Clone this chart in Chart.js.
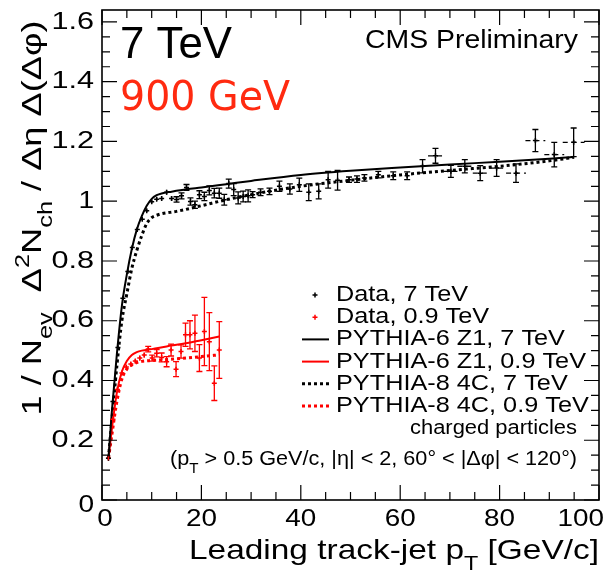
<!DOCTYPE html>
<html>
<head>
<meta charset="utf-8">
<script src="https://cdn.jsdelivr.net/npm/chart.js@4.4.1/dist/chart.umd.min.js"></script>
<style>
  html, body { margin: 0; padding: 0; background: #fff; }
  #wrap { width: 606px; height: 575px; }
</style>
</head>
<body>
<div id="wrap"><canvas id="chart"></canvas></div>
<script>
// DATA, 7 TeV
const x7 = [1.3, 2.2, 3.2, 4.2, 5.2, 6.1, 7.1, 8.1, 9.0, 10.0, 11.0, 12.0, 13.0, 14.0, 15.0, 16.0, 17.0, 17.8, 18.7, 19.6,
  20.6, 21.6, 22.6, 23.6, 24.6, 25.5, 26.5, 27.4, 28.4, 29.4, 30.3, 31.9, 33.7, 35.7, 37.8, 39.7, 41.6, 43.6, 45.5, 47.4,
  49.7, 51.3, 52.8, 55.6, 58.6, 61.4, 64.5, 67.1, 70.2, 73.0, 76.1, 79.4, 83.3, 87.2, 91.0, 94.9];
const y7 = [0.14, 0.33, 0.51, 0.675, 0.765, 0.845, 0.905, 0.94, 0.968, 0.998, 1.007, 1.009, 1.03, 1.009, 1.006, 1.018, 1.046, 0.999, 0.988, 1.022,
  1.016, 1.036, 1.027, 1.027, 1.005, 1.059, 1.039, 1.011, 1.016, 1.018, 1.022, 1.03, 1.033, 1.05, 1.041, 1.055, 1.03, 1.033, 1.072, 1.07,
  1.072, 1.074, 1.078, 1.089, 1.085, 1.085, 1.117, 1.152, 1.1, 1.117, 1.094, 1.111, 1.094, 1.203, 1.156, 1.197];
const err7 = [0.005, 0.005, 0.005, 0.005, 0.005, 0.005, 0.005, 0.005, 0.005, 0.006, 0.006, 0.007, 0.008, 0.008, 0.009, 0.01, 0.01, 0.012, 0.012, 0.013,
  0.014, 0.015, 0.016, 0.017, 0.018, 0.015, 0.02, 0.02, 0.018, 0.02, 0.01, 0.011, 0.011, 0.017, 0.017, 0.022, 0.028, 0.025, 0.028, 0.033,
  0.009, 0.011, 0.011, 0.011, 0.013, 0.013, 0.022, 0.025, 0.02, 0.022, 0.025, 0.028, 0.031, 0.037, 0.041, 0.048];
const xerr7 = [0, 0, 0, 0, 0, 0, 0, 0, 0, 0, 0, 0, 0, 0, 0, 0, 0, 0, 0, 0,
  0, 0, 0, 0, 0, 0, 0, 0, 0, 0, 0, 0, 0, 0, 0, 0, 0, 0, 0, 0,
  0, 0, 0, 0, 0, 0, 0, 1.5, 1.5, 1.5, 1.5, 1.5, 2, 2, 2, 2.2];

// DATA, 0.9 TeV
const x09 = [1.3, 2.2, 3.1, 4.0, 4.9, 5.8, 6.7, 7.6, 8.5, 9.3, 10.1, 11.0, 12.0, 13.0, 13.9, 14.9, 15.9, 16.8, 17.7, 18.7,
  19.6, 20.6, 21.6, 22.6, 23.6];
const y09 = [0.14, 0.27, 0.37, 0.425, 0.445, 0.455, 0.465, 0.475, 0.485, 0.505, 0.475, 0.491, 0.477, 0.463, 0.502, 0.438, 0.497, 0.553, 0.553, 0.558,
  0.475, 0.564, 0.53, 0.391, 0.502];
const err09 = [0.006, 0.006, 0.006, 0.006, 0.006, 0.007, 0.007, 0.008, 0.008, 0.009, 0.01, 0.012, 0.015, 0.017, 0.02, 0.025, 0.022, 0.039, 0.047, 0.061,
  0.045, 0.114, 0.097, 0.058, 0.095];

// PYTHIA curves
const xZ1_7 = [1.3, 2, 3, 4, 5, 6, 7, 8, 9, 10, 11, 12, 14, 17, 20, 25, 30, 40, 50, 60, 70, 80, 90, 95];
const yZ1_7 = [0.14, 0.3, 0.49, 0.65, 0.755, 0.84, 0.905, 0.95, 0.985, 1.008, 1.02, 1.026, 1.032, 1.04, 1.046, 1.057, 1.068, 1.088, 1.102, 1.113, 1.123, 1.132, 1.142, 1.148];
const x4C_7 = [1.3, 2, 3, 4, 5, 6, 7, 8, 9, 10, 11, 12, 15, 20, 25, 30, 40, 50, 60, 70, 80, 90, 95];
const y4C_7 = [0.14, 0.27, 0.45, 0.6, 0.69, 0.775, 0.835, 0.885, 0.925, 0.945, 0.953, 0.958, 0.966, 0.985, 1.005, 1.022, 1.05, 1.07, 1.088, 1.103, 1.117, 1.135, 1.147];
const xZ1_09 = [1.3, 2, 3, 4, 5, 6, 7, 8, 10, 13, 16, 20, 23.6];
const yZ1_09 = [0.14, 0.24, 0.36, 0.43, 0.465, 0.485, 0.495, 0.5, 0.505, 0.514, 0.522, 0.535, 0.547];
const x4C_09 = [1.3, 2, 3, 4, 5, 6, 7, 8, 10, 13, 16, 20, 23.6];
const y4C_09 = [0.14, 0.22, 0.33, 0.405, 0.438, 0.452, 0.46, 0.464, 0.467, 0.47, 0.474, 0.48, 0.486];

// axes
const xTicks = [0, 20, 40, 60, 80, 100];
const xTickLabels = ["0", "20", "40", "60", "80", "100"];
const yTicks = [0, 0.2, 0.4, 0.6, 0.8, 1, 1.2, 1.4, 1.6];
const yTickLabels = ["0", "0.2", "0.4", "0.6", "0.8", "1", "1.2", "1.4", "1.6"];

const legendLabels = ["Data, 7 TeV", "Data, 0.9 TeV", "PYTHIA-6 Z1, 7 TeV", "PYTHIA-6 Z1, 0.9 TeV", "PYTHIA-8 4C, 7 TeV", "PYTHIA-8 4C, 0.9 TeV"];

const RED = "#ff0000";
const FONT = "'Liberation Sans', Arial, sans-serif";

const pts = (xs, ys) => xs.map((x, i) => ({ x: x, y: ys[i] }));

// text squeezed/stretched to a given width (ROOT helvetica is wide)
function fitText(ctx, s, x, y, size, align, width, color, family) {
  ctx.save();
  ctx.font = size + "px " + (family || FONT);
  const nat = ctx.measureText(s).width;
  const sx = width ? width / nat : 1;
  const w = nat * sx;
  let left = x;
  if (align === "right") left = x - w;
  if (align === "center") left = x - w / 2;
  ctx.translate(left, y);
  ctx.scale(sx, 1);
  ctx.fillStyle = color || "#000";
  ctx.textAlign = "left";
  ctx.textBaseline = "middle";
  ctx.fillText(s, 0, 0);
  ctx.restore();
}

// text with sub / superscripts
function richText(ctx, parts, x, y, size, align, width) {
  ctx.save();
  const f = k => (k ? size * 0.7 : size) + "px " + FONT;
  let nat = 0;
  parts.forEach(p => { ctx.font = f(p[1]); nat += ctx.measureText(p[0]).width; });
  const sx = width ? width / nat : 1;
  const w = nat * sx;
  let left = x;
  if (align === "right") left = x - w;
  if (align === "center") left = x - w / 2;
  ctx.translate(left, y);
  ctx.scale(sx, 1);
  ctx.fillStyle = "#000";
  ctx.textBaseline = "alphabetic";
  let cx = 0;
  const base = size * 0.36;
  parts.forEach(p => {
    ctx.font = f(p[1]);
    let dy = base;
    if (p[1] === "sub") dy = base + size * 0.38;
    if (p[1] === "sup") dy = base - size * 0.42;
    ctx.fillText(p[0], cx, dy);
    cx += ctx.measureText(p[0]).width;
  });
  ctx.restore();
}

function cross(ctx, x, y, r, color) {
  ctx.strokeStyle = color;
  ctx.lineWidth = 1.5;
  ctx.beginPath();
  ctx.moveTo(x - r, y); ctx.lineTo(x + r, y);
  ctx.moveTo(x, y - r); ctx.lineTo(x, y + r);
  ctx.stroke();
}

const rootPlugin = {
  id: "rootStyle",
  afterDatasetsDraw(chart) {
    const ctx = chart.ctx;
    const xs = chart.scales.x, ys = chart.scales.y;
    const a = chart.chartArea;

    // error bars
    function bars(xv, yv, ev, xev, color) {
      ctx.save();
      ctx.strokeStyle = color;
      ctx.lineWidth = 1.3;
      xv.forEach((x, i) => {
        const px = xs.getPixelForValue(x);
        const py = ys.getPixelForValue(yv[i]);
        const top = ys.getPixelForValue(yv[i] + ev[i]);
        const bot = ys.getPixelForValue(yv[i] - ev[i]);
        ctx.setLineDash([]);
        ctx.beginPath();
        ctx.moveTo(px, top); ctx.lineTo(px, bot);
        if (bot - top > 5) {
          ctx.moveTo(px - 3, top); ctx.lineTo(px + 3, top);
          ctx.moveTo(px - 3, bot); ctx.lineTo(px + 3, bot);
        }
        ctx.stroke();
        if (xev && xev[i] > 0) {
          ctx.setLineDash([5, 4]);
          ctx.beginPath();
          ctx.moveTo(xs.getPixelForValue(x - xev[i]), py);
          ctx.lineTo(xs.getPixelForValue(x + xev[i]), py);
          ctx.stroke();
        }
      });
      ctx.restore();
    }
    bars(x7, y7, err7, xerr7, "#000");
    bars(x09, y09, err09, null, RED);

    // frame and inward ticks on all four sides
    ctx.save();
    ctx.strokeStyle = "#000";
    ctx.lineWidth = 1.6;
    ctx.strokeRect(a.left, a.top, a.right - a.left, a.bottom - a.top);
    ctx.lineWidth = 1.2;
    ctx.beginPath();
    for (let v = 0; v <= 100.001; v += 5) {
      const px = xs.getPixelForValue(v);
      const len = (v % 20 === 0) ? 15 : 8;
      ctx.moveTo(px, a.bottom); ctx.lineTo(px, a.bottom - len);
      ctx.moveTo(px, a.top); ctx.lineTo(px, a.top + len);
    }
    for (let k = 0; k <= 32; k++) {
      const v = k * 0.05;
      const py = ys.getPixelForValue(v);
      const len = (k % 4 === 0) ? 15 : 8;
      ctx.moveTo(a.left, py); ctx.lineTo(a.left + len, py);
      ctx.moveTo(a.right, py); ctx.lineTo(a.right - len, py);
    }
    ctx.stroke();
    ctx.restore();

    // tick labels
    yTicks.forEach((v, i) => {
      const s = yTickLabels[i];
      const py = v === 0 ? a.bottom + 5 : ys.getPixelForValue(v);
      fitText(ctx, s, a.left - 8, py, 24, "right", s.length * 14.2 * (s.length === 1 ? 1.1 : 1));
    });
    xTicks.forEach((v, i) => {
      const s = xTickLabels[i];
      const w = s.length * 15.5;
      let cx = xs.getPixelForValue(v) + (v === 0 ? 3 : 0);
      if (cx + w / 2 > 604) cx = 604 - w / 2;
      fitText(ctx, s, cx, a.bottom + 19, 24, "center", w);
    });

    // axis titles
    richText(ctx, [["Leading track-jet p", ""], ["T", "sub"], [" [GeV/c]", ""]], a.right, 549, 28, "right", 410);
    ctx.save();
    ctx.translate(31, 218);
    ctx.rotate(-Math.PI / 2);
    richText(ctx, [["1 / N", ""], ["ev", "sub"], ["  \u0394", ""], ["2", "sup"], ["N", ""], ["ch", "sub"], [" / \u0394\u03b7 \u0394(\u0394\u03c6)", ""]], 0, 0, 28, "center", 395);
    ctx.restore();

    // labels inside the frame
    fitText(ctx, "7 TeV", 120, 46, 44, "left", 112);
    fitText(ctx, "900 GeV", 120, 100, 40, "left", 170, "#ff2a10", "'DejaVu Sans', sans-serif");
    fitText(ctx, "CMS Preliminary", 578, 41, 25, "right", 213);

    // legend
    ctx.save();
    ctx.font = "22px " + FONT;
    const legSx = 250 / ctx.measureText(legendLabels[3]).width;
    ctx.restore();
    legendLabels.forEach((s, i) => {
      const ly = 295 + i * 22.2;
      ctx.save();
      ctx.font = "22px " + FONT;
      const w = ctx.measureText(s).width * legSx;
      ctx.restore();
      fitText(ctx, s, 336, ly, 22, "left", w);
      ctx.save();
      if (i < 2) {
        cross(ctx, 315, ly, 2.5, i === 0 ? "#000" : RED);
      } else {
        ctx.strokeStyle = (i % 2 === 0) ? "#000" : RED;
        ctx.lineWidth = i < 4 ? 2 : 3;
        ctx.setLineDash(i < 4 ? [] : [3, 3]);
        ctx.beginPath();
        ctx.moveTo(302, ly); ctx.lineTo(329, ly);
        ctx.stroke();
      }
      ctx.restore();
    });
    fitText(ctx, "charged particles", 577, 428, 20, "right", 167);
    richText(ctx, [["(p", ""], ["T", "sub"], [" > 0.5 GeV/c, |\u03b7| < 2, 60\u00b0 < |\u0394\u03c6| < 120\u00b0)", ""]], 577, 458, 20, "right", 407);
  }
};

new Chart(document.getElementById("chart"), {
  type: "scatter",
  data: {
    datasets: [
      {
        label: "Data, 7 TeV",
        data: pts(x7, y7),
        pointStyle: "cross",
        pointRadius: 2.5,
        borderColor: "#000",
        borderWidth: 1.5,
        showLine: false
      },
      {
        label: "Data, 0.9 TeV",
        data: pts(x09, y09),
        pointStyle: "cross",
        pointRadius: 2.5,
        borderColor: RED,
        borderWidth: 1.5,
        showLine: false
      },
      {
        label: "PYTHIA-6 Z1, 7 TeV",
        data: pts(xZ1_7, yZ1_7),
        showLine: true,
        borderColor: "#000",
        borderWidth: 2,
        pointRadius: 0,
        cubicInterpolationMode: "monotone"
      },
      {
        label: "PYTHIA-6 Z1, 0.9 TeV",
        data: pts(xZ1_09, yZ1_09),
        showLine: true,
        borderColor: RED,
        borderWidth: 2,
        pointRadius: 0,
        cubicInterpolationMode: "monotone"
      },
      {
        label: "PYTHIA-8 4C, 7 TeV",
        data: pts(x4C_7, y4C_7),
        showLine: true,
        borderColor: "#000",
        borderWidth: 3,
        borderDash: [3, 3],
        pointRadius: 0,
        cubicInterpolationMode: "monotone"
      },
      {
        label: "PYTHIA-8 4C, 0.9 TeV",
        data: pts(x4C_09, y4C_09),
        showLine: true,
        borderColor: RED,
        borderWidth: 3,
        borderDash: [3, 3],
        pointRadius: 0,
        cubicInterpolationMode: "monotone"
      }
    ]
  },
  options: {
    responsive: true,
    maintainAspectRatio: false,
    animation: false,
    devicePixelRatio: 1,
    layout: { padding: { left: 102, top: 10, right: 7, bottom: 75 } },
    plugins: {
      legend: { display: false },
      tooltip: { enabled: false }
    },
    scales: {
      x: { type: "linear", min: 0, max: 100, display: false },
      y: { min: 0, max: 1.64, display: false }
    }
  },
  plugins: [rootPlugin]
});
</script>
</body>
</html>
